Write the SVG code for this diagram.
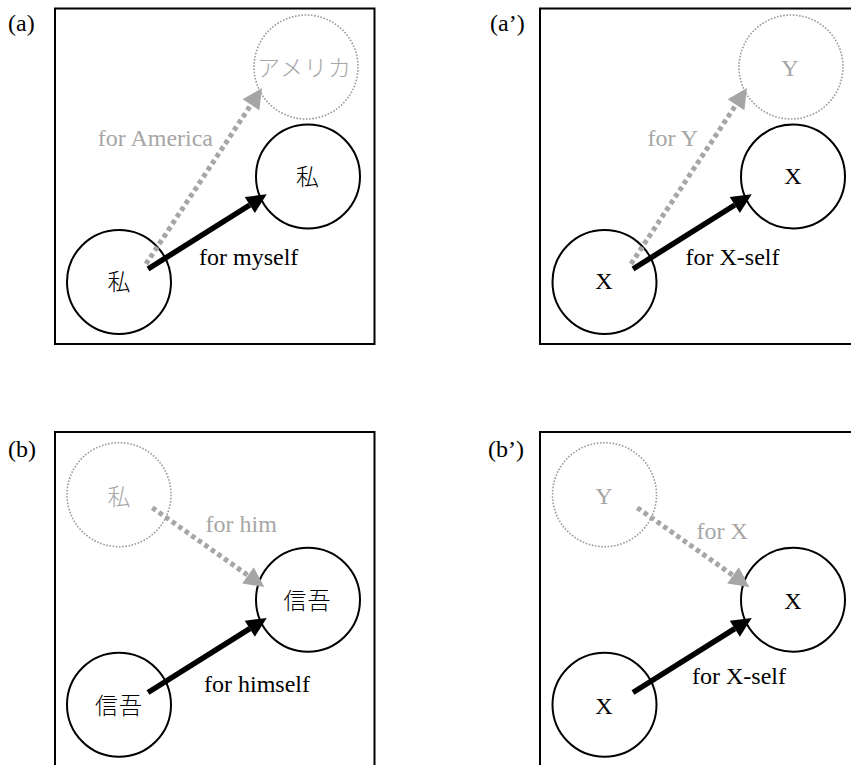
<svg xmlns="http://www.w3.org/2000/svg" width="851" height="765" viewBox="0 0 851 765">
<style>
.frame{fill:none;stroke:#000;stroke-width:2}
.node{fill:none;stroke:#000;stroke-width:2}
.ghost{fill:none;stroke:#9a9a9a;stroke-width:1.6;stroke-dasharray:1.6 1.6}
.t{font-family:"Liberation Serif","Times New Roman","DejaVu Serif",serif;font-size:24px;fill:#000}
.j{font-family:"Noto Sans CJK JP","Noto Sans CJK SC",sans-serif;font-size:23px;font-weight:300;fill:#000}
.g{fill:#a6a6a6}
.c{text-anchor:middle}
.e{text-anchor:end}
.solid{fill:none;stroke:#000;stroke-width:5.5}
.dot{fill:none;stroke:#a6a6a6;stroke-width:5;stroke-dasharray:4.5 3.5}
</style>
<defs>
<marker id="hb" viewBox="0 -10 20 20" markerWidth="20" markerHeight="20" refX="0" refY="0" orient="auto" markerUnits="userSpaceOnUse" overflow="visible">
<path d="M0,-9.5 L20,0 L0,9.5 Z" fill="#000"/>
</marker>
<marker id="hg" viewBox="0 -10 20 20" markerWidth="20" markerHeight="20" refX="0" refY="0" orient="auto" markerUnits="userSpaceOnUse" overflow="visible">
<path d="M0,-10 L20,0 L0,10 Z" fill="#a6a6a6"/>
</marker>
</defs>

<g id="frames">
<rect class="frame" x="55" y="8.5" width="319.5" height="335.5"/>
<rect class="frame" x="540" y="8.5" width="330" height="335.5"/>
<rect class="frame" x="55" y="432" width="319.5" height="345"/>
<rect class="frame" x="540" y="432" width="330" height="345"/>
</g>

<g id="panel-labels">
<text class="t" x="8" y="31">(a)</text>
<text class="t" x="490" y="31">(a’)</text>
<text class="t" x="8" y="457">(b)</text>
<text class="t" x="488" y="457">(b’)</text>
</g>

<!-- panel (a) -->
<g id="a-america"><circle class="ghost" cx="306" cy="67" r="52"/><text class="j g c" x="304.5" y="76" letter-spacing="1">アメリカ</text></g>
<g id="a-watashi-top"><circle class="node" cx="308" cy="176.5" r="52"/><text class="j c" x="307.5" y="184.5">私</text></g>
<g id="a-watashi"><circle class="node" cx="119" cy="282" r="52"/><text class="j c" x="119" y="290">私</text></g>

<!-- panel (a') -->
<g id="a2-y"><circle class="ghost" cx="791" cy="67" r="52"/><text class="t g c" x="790" y="76">Y</text></g>
<g id="a2-x-top"><circle class="node" cx="793" cy="176.5" r="52"/><text class="t c" x="793" y="184">X</text></g>
<g id="a2-x"><circle class="node" cx="604.5" cy="282" r="52"/><text class="t c" x="604" y="288.5">X</text></g>

<!-- panel (b) -->
<g id="b-watashi"><circle class="ghost" cx="119" cy="494.7" r="52"/><text class="j g c" x="119" y="504.5">私</text></g>
<g id="b-shingo-top"><circle class="node" cx="308" cy="599.8" r="52"/><text class="j c" x="307.5" y="608.5" letter-spacing="1">信吾</text></g>
<g id="b-shingo"><circle class="node" cx="119" cy="704.7" r="52"/><text class="j c" x="119" y="713.5" letter-spacing="1">信吾</text></g>

<!-- panel (b') -->
<g id="b2-y"><circle class="ghost" cx="604.5" cy="494.7" r="52"/><text class="t g c" x="604" y="504">Y</text></g>
<g id="b2-x-top"><circle class="node" cx="793" cy="599.8" r="52"/><text class="t c" x="793" y="608.5">X</text></g>
<g id="b2-x"><circle class="node" cx="604.5" cy="704.7" r="52"/><text class="t c" x="604" y="713.5">X</text></g>

<g id="connectors">
<line class="dot" x1="146" y1="264" x2="251" y2="104.7" marker-end="url(#hg)"/>
<line class="solid" x1="148" y1="269" x2="249.8" y2="205" marker-end="url(#hb)"/>
<line class="dot" x1="631" y1="264" x2="736" y2="104.7" marker-end="url(#hg)"/>
<line class="solid" x1="633" y1="269" x2="734.8" y2="205" marker-end="url(#hb)"/>
<line class="dot" x1="152.3" y1="507.7" x2="248" y2="575.4" marker-end="url(#hg)"/>
<line class="solid" x1="148" y1="692.5" x2="249.8" y2="628.7" marker-end="url(#hb)"/>
<line class="dot" x1="637.3" y1="507.7" x2="733" y2="575.4" marker-end="url(#hg)"/>
<line class="solid" x1="633" y1="692.5" x2="734.8" y2="628.7" marker-end="url(#hb)"/>
</g>

<g id="connector-labels">
<text class="t g e" x="213" y="145.5">for America</text>
<text class="t" x="199" y="265">for myself</text>
<text class="t g e" x="698" y="145.5">for Y</text>
<text class="t" x="685.5" y="265">for X-self</text>
<text class="t g" x="205.5" y="531.5">for him</text>
<text class="t" x="204" y="691.5">for himself</text>
<text class="t g" x="696.5" y="539">for X</text>
<text class="t" x="692" y="684">for X-self</text>
</g>
</svg>
